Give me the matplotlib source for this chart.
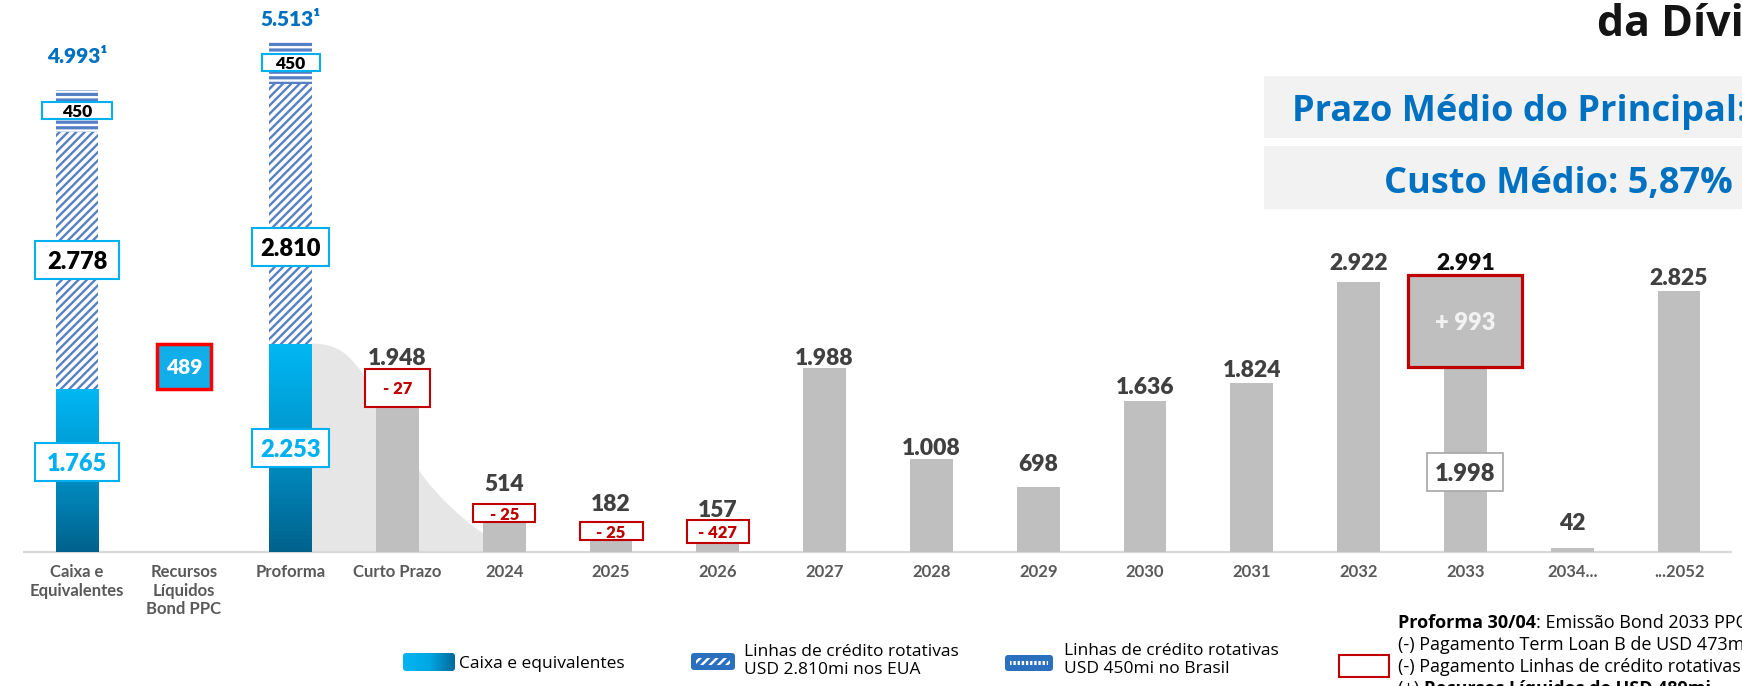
import numpy as np
import matplotlib
matplotlib.use('Agg')
import matplotlib.pyplot as plt
from matplotlib.patches import Rectangle, FancyBboxPatch, PathPatch
from matplotlib.path import Path
from matplotlib.colors import LinearSegmentedColormap

plt.rcParams['hatch.linewidth'] = 1.7

# ---------------- data ----------------
categories = ['Caixa e\nEquivalentes', 'Recursos\nLíquidos\nBond PPC', 'Proforma', 'Curto Prazo',
              '2024', '2025', '2026', '2027', '2028', '2029', '2030', '2031', '2032', '2033',
              '2034...', '...2052']
liq_idx = [0, 2]
cash = [1765, 2253]
revolver_us = [2778, 2810]
revolver_br = [450, 450]
bond_idx = 1
bond_proceeds = 489
debt_idx = [3, 4, 5, 6, 7, 8, 9, 10, 11, 12, 13, 14, 15]
debt = [1948, 514, 182, 157, 1988, 1008, 698, 1636, 1824, 2922, 2991, 42, 2825]
pay_idx = [3, 4, 5, 6]
payments = [-27, -25, -25, -427]
new_bond_idx = 13
new_bond = 993
prior_2033 = 1998


def fmt(v):
    return f"{v:,}".replace(",", ".")


# ---------------- geometry / style ----------------
SX, SY = 106.8, 0.0925      # pixels per category, pixels per unit
X0, Y0 = 77, 552
W, H = 1742, 686


def dx(p):
    return p / SX


def dy(p):
    return p / SY


LBL = 'Lato'
TXT = 'Open Sans'
HEAVY = 'heavy'
BW = 0.40
GREY = '#bfbfbf'
DARK = '#404040'
BLUE = '#0070c0'
CYAN = '#00b0f0'
RED = '#c00000'
HBLUE = '#5580c6'

fig = plt.figure(figsize=(W / 100, H / 100), dpi=100)
ax = fig.add_axes([0, 0, 1, 1])
ov = fig.add_axes([0, 0, 1, 1], zorder=5)
ov.patch.set_alpha(0)

# grey flow area from the Proforma cash to short-term debt
x_start = liq_idx[1] + BW / 2
verts = [(x_start, cash[1]), (2.45, cash[1]), (2.55, 2120), (2.65, 1968),
         (2.75, 1810), (3.05, 1150), (3.2, 886),
         (3.35, 620), (3.85, 20), (4.25, 0),
         (x_start, 0), (x_start, cash[1])]
codes = [Path.MOVETO] + [Path.CURVE4] * 9 + [Path.LINETO, Path.CLOSEPOLY]
ax.add_patch(PathPatch(Path(verts, codes), fc='#e6e6e6', ec='none', zorder=1))

# baseline
ax.plot([dx(23 - X0), dx(1732 - X0)], [0, 0], color='#d9d9d9', lw=1.6, zorder=1.5,
        solid_capstyle='butt')

# debt bars
ax.bar(debt_idx, debt, width=BW, color=GREY, linewidth=0, zorder=2)

# cash bars with gradient
cash_bars = ax.bar(liq_idx, cash, width=BW, color='none', linewidth=0, zorder=3)
cmap_cash = LinearSegmentedColormap.from_list('cash', ['#00618c', '#0093c9', '#00b8f4'])
grad = np.linspace(0, 1, 256).reshape(-1, 1)
for b in cash_bars:
    x0, y0, w, h = b.get_x(), b.get_y(), b.get_width(), b.get_height()
    im = ax.imshow(grad, extent=[x0, x0 + w, y0, y0 + h], origin='lower', cmap=cmap_cash,
                   aspect='auto', zorder=3, interpolation='bilinear')
    im.set_clip_path(b)

# revolving credit lines
ax.bar(liq_idx, revolver_us, bottom=cash, width=BW, color='white', edgecolor=HBLUE,
       hatch='////', linewidth=0, zorder=3)
br_bottom = [c + u for c, u in zip(cash, revolver_us)]
ax.bar(liq_idx, revolver_br, bottom=br_bottom, width=BW, color=HBLUE, edgecolor='white',
       hatch='---', linewidth=0, zorder=3)

# bond proceeds (bridge from cash to proforma cash)
ax.bar([bond_idx], [bond_proceeds], bottom=[cash[0]], width=0.5, color='#12aeea',
       edgecolor='#ff0000', linewidth=2.5, zorder=3)
ax.text(bond_idx, cash[0] + bond_proceeds / 2, fmt(bond_proceeds), ha='center',
        va='center_baseline', color='white', fontsize=15, fontweight=HEAVY, family=LBL, zorder=7)


def box(xc, yc, wpx, hpx, text, tcolor, ec, fc='white', lw=1.5, size=12, z=6):
    ax.add_patch(Rectangle((xc - dx(wpx) / 2, yc - dy(hpx) / 2), dx(wpx), dy(hpx),
                           fc=fc, ec=ec, lw=lw, zorder=z))
    ax.text(xc, yc, text, ha='center', va='center_baseline', color=tcolor, fontsize=size,
            fontweight=HEAVY, family=LBL, zorder=z + 1)


cash_frac = [0.55, 0.50]
us_frac = [0.50, 0.37]
box_w = [84, 77]
br_w = [70, 58]
total_off = [35, 24]
for k, i in enumerate(liq_idx):
    box(i, cash[k] * cash_frac[k], box_w[k], 38, fmt(cash[k]), CYAN, CYAN, size=17)
    box(i, cash[k] + revolver_us[k] * us_frac[k], box_w[k], 38, fmt(revolver_us[k]),
        'black', CYAN, size=17)
    box(i, br_bottom[k] + revolver_br[k] / 2, br_w[k], 17, fmt(revolver_br[k]), 'black',
        CYAN, size=12.5)
    total = cash[k] + revolver_us[k] + revolver_br[k]
    ax.text(i, total + dy(total_off[k]), fmt(total) + '¹', ha='center', va='center_baseline',
            color=BLUE, fontsize=15, fontweight=HEAVY, family=LBL, zorder=7)

# debt value labels
lab_off = [15, 22, 33, 29, 12, 12, 25, 15, 15, 20, 14, 27, 14]
for i, v, off in zip(debt_idx, debt, lab_off):
    col = '#0d0d0d' if i == new_bond_idx else DARK
    ax.text(i, v + dy(off), fmt(v), ha='center', va='center_baseline', color=col,
            fontsize=16.5, fontweight=HEAVY, family=LBL, zorder=7)

# payment boxes
pay_off = [16, 9, -4, -5.5]
pay_h = [38, 18, 18, 23]
pay_w = [65, 62, 63, 62]
debt_map = dict(zip(debt_idx, debt))
for i, p, off, hh, ww in zip(pay_idx, payments, pay_off, pay_h, pay_w):
    box(i, debt_map[i] - dy(off), ww, hh, f"- {abs(p)}", RED, RED, lw=1.5, size=12)

# 2033 new bond
ax.add_patch(Rectangle((new_bond_idx - dx(114) / 2, prior_2033), dx(114), new_bond,
                       fc=GREY, ec=RED, lw=2.3, zorder=4))
ax.text(new_bond_idx, prior_2033 + new_bond / 2, f"+ {new_bond}", ha='center',
        va='center_baseline', color='#f2f2f2', fontsize=17, fontweight=HEAVY, family=LBL, zorder=7)
box(new_bond_idx, prior_2033 * 0.433, 76, 38, fmt(prior_2033), DARK, '#a6a6a6', lw=1.2, size=17)

# category labels
for i, c in enumerate(categories):
    ax.text(i, -dy(12), c, ha='center', va='top', color='#595959', fontsize=12,
            fontweight='bold', family=LBL, linespacing=1.2)

ax.set_xlim(-X0 / SX, (W - X0) / SX)
ax.set_ylim(-(H - Y0) / SY, Y0 / SY)
ax.axis('off')

# ---------------- overlay (pixel coordinates) ----------------
# top right
ov.add_patch(Rectangle((1264, 76), 500, 62, fc='#f2f2f2', ec='none'))
ov.add_patch(Rectangle((1264, 146), 500, 63, fc='#f2f2f2', ec='none'))
ov.text(1292, 108, 'Prazo Médio do Principal:', ha='left', va='center_baseline', color=BLUE,
        fontsize=26, fontweight='bold', family=TXT)
ov.text(1384, 179, 'Custo Médio: 5,87%', ha='left', va='center_baseline', color=BLUE,
        fontsize=26, fontweight='bold', family=TXT)
ov.text(1597, 36, 'da Dívida', ha='left', va='baseline', color='#141414',
        fontsize=31, fontweight='bold', family=TXT)

# legend
sw1 = FancyBboxPatch((403, 653), 52, 18, boxstyle='round,pad=0,rounding_size=3',
                     fc='none', ec='none')
ov.add_patch(sw1)
hgrad = np.linspace(0, 1, 256).reshape(1, -1)
cmap_leg = LinearSegmentedColormap.from_list('leg', ['#00b4f0', '#00a8e4', '#006b9c'])
im2 = ov.imshow(hgrad, extent=[403, 455, 671, 653], cmap=cmap_leg, aspect='auto',
                interpolation='bilinear')
im2.set_clip_path(sw1)
ov.text(459, 662, 'Caixa e equivalentes', ha='left', va='center_baseline', color='black',
        fontsize=12.5, family=TXT)

ov.add_patch(FancyBboxPatch((691, 653), 44, 17, boxstyle='round,pad=0,rounding_size=3',
                            fc='#2a70bf', ec='none', lw=0))
ov.add_patch(Rectangle((696, 658), 34, 7, fc='none', ec='white', hatch='////', lw=0))
ov.text(744, 661, 'Linhas de crédito rotativas\nUSD 2.810mi nos EUA', ha='left', va='center',
        color='black', fontsize=12.5, family=TXT, linespacing=1.15)

ov.add_patch(FancyBboxPatch((1005, 655), 48, 16, boxstyle='round,pad=0,rounding_size=3',
                            fc='#2a70bf', ec='none', lw=0))
ov.add_patch(Rectangle((1010, 661), 38, 4, fc='none', ec='white', hatch='||||', lw=0))
ov.text(1064, 660, 'Linhas de crédito rotativas\nUSD 450mi no Brasil', ha='left', va='center',
        color='black', fontsize=12.5, family=TXT, linespacing=1.15)

ov.add_patch(Rectangle((1339, 655), 50, 22, fc='white', ec=RED, lw=1.5))


# notes (bold + regular runs)
def run(x, y, parts):
    prev = None
    for txt, bold in parts:
        w = 'bold' if bold else 'normal'
        if prev is None:
            prev = ov.text(x, y, txt, ha='left', va='baseline', fontsize=13, fontweight=w,
                           family=TXT, color='black')
        else:
            prev = ov.annotate(txt, xy=(1, 0), xycoords=prev, ha='left', va='bottom',
                               fontsize=13, fontweight=w, family=TXT, color='black',
                               annotation_clip=False)


run(1398, 628, [('Proforma 30/04', True), (': Emissão Bond 2033 PPC', False)])
run(1398, 650, [('(-) Pagamento Term Loan B de USD 473mi', False)])
run(1398, 672, [('(-) Pagamento Linhas de crédito rotativas USD 450mi', False)])
run(1398, 694, [('(+) ', False), ('Recursos Líquidos de USD 489mi', True)])

ov.set_xlim(0, W)
ov.set_ylim(H, 0)
ov.axis('off')

fig.savefig('out.png', dpi=100)
